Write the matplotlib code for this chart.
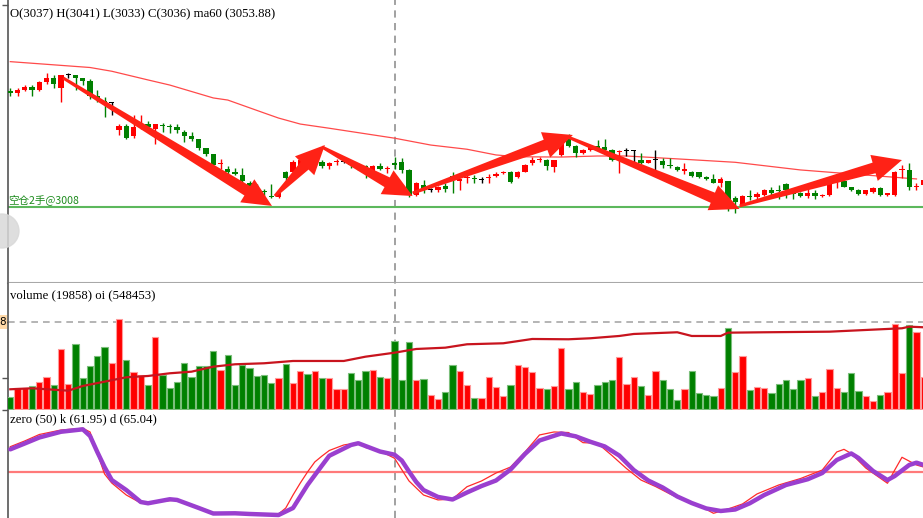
import numpy as np
import matplotlib
matplotlib.use("Agg")
import matplotlib.pyplot as plt
from matplotlib.patches import Polygon, Ellipse

# candles
opens = [3085, 3084, 3086, 3088, 3086, 3091, 3094, 3087, 3096, 3096,
         3094, 3092, 3082, 3078.5, 3077, 3059, 3062, 3055, 3061, 3063,
         3060, 3062.5, 3062, 3061, 3058, 3055, 3053, 3047, 3043, 3036.5,
         3033, 3031.5, 3029, 3024, 3022, 3018.5, 3015, 3014.5, 3031, 3031.5,
         3033, 3040.5, 3037, 3038, 3035, 3038, 3038, 3038, 3036, 3035,
         3031.5, 3035, 3033, 3037, 3038, 3032.5, 3016, 3022.5, 3019.5, 3019,
         3022, 3028.5, 3025.5, 3027, 3027, 3026, 3027.5, 3028.5, 3030.5, 3031.5,
         3028, 3031.5, 3037.5, 3039.5, 3039.5, 3034.5, 3042.5, 3055, 3048.5, 3044,
         3046, 3048.5, 3048, 3046, 3044.5, 3045, 3045, 3039.5, 3037.5, 3039,
         3038.5, 3036, 3034.5, 3032, 3031.5, 3031, 3028, 3026.5, 3024, 3025,
         3014, 3009.5, 3015, 3014.5, 3016, 3019.5, 3019, 3023.5, 3018, 3017,
         3015.5, 3017, 3015, 3016, 3024.5, 3025, 3021, 3019.5, 3016.5, 3018,
         3020.5, 3016, 3016, 3032.5, 3032.5, 3021.5, 3022.5]
highs = [3087, 3087, 3089, 3089, 3092, 3097, 3096, 3096, 3097, 3096,
         3094, 3093, 3086, 3081, 3078, 3063, 3063, 3069, 3069, 3065,
         3063, 3064, 3063, 3063, 3059, 3058, 3053, 3047, 3043, 3040,
         3035, 3034, 3034, 3025, 3023, 3020, 3023, 3018, 3032, 3039,
         3040, 3041, 3041.5, 3039, 3038, 3040, 3041, 3039, 3037, 3036,
         3036, 3037.5, 3035, 3041, 3040.5, 3033, 3024.5, 3026, 3020.5, 3022,
         3024, 3031, 3027, 3030.5, 3029, 3028, 3030, 3031, 3032, 3032,
         3032, 3036.5, 3041, 3041, 3040, 3039.5, 3055.5, 3056.5, 3049, 3046.5,
         3049, 3052.5, 3053, 3046.5, 3046, 3047, 3046, 3044, 3039.5, 3046,
         3040.5, 3040.5, 3035, 3037, 3032, 3031.5, 3028.5, 3030, 3028, 3025.5,
         3015.5, 3016, 3019, 3018, 3020, 3021.5, 3022.5, 3024, 3020, 3018,
         3020, 3019, 3016.5, 3025, 3026, 3025.5, 3021.5, 3020, 3019.5, 3021,
         3021, 3017.5, 3032, 3036, 3037, 3024, 3027]
lows = [3082, 3082, 3085, 3082, 3085, 3090, 3087, 3078, 3094, 3086,
        3089, 3080, 3078, 3068, 3069, 3056, 3053, 3054, 3060, 3059,
        3050, 3058, 3057, 3057, 3051, 3052, 3046, 3042, 3035, 3033,
        3030, 3029, 3024, 3020.5, 3019, 3015, 3014, 3014, 3026, 3030,
        3032, 3037, 3035, 3034, 3033, 3036, 3037.5, 3034, 3032.5, 3027,
        3031, 3032.5, 3030.5, 3033, 3030.5, 3014.5, 3015, 3017.5, 3018, 3018,
        3018, 3017, 3019, 3024, 3024, 3024, 3024, 3028, 3030, 3024,
        3027, 3031, 3036, 3038, 3032.5, 3031.5, 3042, 3048, 3041.5, 3043.5,
        3045.5, 3046, 3044.5, 3038.5, 3030.5, 3042, 3037, 3036.5, 3037, 3032,
        3034, 3034, 3032, 3030, 3028, 3027.5, 3026, 3024, 3021, 3005,
        3004, 3009, 3012.5, 3013, 3015.5, 3016, 3013, 3014, 3013, 3014.5,
        3014, 3013, 3014.5, 3015.5, 3020.5, 3021, 3018.5, 3016, 3016, 3017.5,
        3015.5, 3015.5, 3015.5, 3027, 3019.5, 3019.5, 3021]
closes = [3084, 3086, 3088, 3086, 3091, 3094, 3090, 3096, 3096, 3094,
          3092, 3082, 3079, 3078, 3077, 3062, 3054, 3061, 3063, 3061,
          3063, 3062, 3061.5, 3059, 3055, 3053, 3047, 3043, 3036, 3037,
          3031.5, 3030, 3025, 3021.5, 3020, 3018, 3014.5, 3017, 3027, 3038,
          3039, 3037.5, 3039, 3035, 3037.5, 3038.5, 3038, 3036, 3034, 3032.5,
          3035, 3033.5, 3034, 3036, 3032.5, 3016, 3024, 3019.5, 3019.5, 3021,
          3020, 3026, 3026.5, 3027.5, 3026.5, 3026, 3028, 3030, 3031.5, 3024.5,
          3031.5, 3036, 3039, 3040, 3035, 3039, 3055, 3048.5, 3044, 3046,
          3048.5, 3046.5, 3046, 3039, 3045.5, 3045, 3045, 3037, 3039, 3039,
          3036, 3035, 3032.5, 3033, 3028.5, 3028, 3026.5, 3024, 3026.5, 3010.5,
          3011.5, 3015.5, 3014.5, 3016.5, 3019.5, 3017.5, 3018.5, 3019.5, 3016.5, 3015.5,
          3017, 3015, 3016, 3025, 3025, 3021.5, 3019, 3016.5, 3019, 3020.5,
          3016, 3017, 3031.5, 3033, 3021.5, 3022, 3026]

# ma60 read at some bars
ma_idx = [0, 11, 14, 19, 22, 28, 30, 35, 37, 40, 44, 53, 58, 63, 67, 70, 76, 81, 85, 93, 100, 109, 118, 125]
ma_val = [3104.9, 3101, 3098.5, 3092.7, 3089.3, 3080.7, 3079.3, 3070.7, 3067.3, 3063.3, 3060.5, 3053.88,
          3049.3, 3046.5, 3042.7, 3041.5, 3041.3, 3042, 3042, 3039.8, 3037.8, 3032.7, 3029.3, 3026.7]

# volume + up/down flag (1 = red)
vols = [3480, 6090, 6090, 6670, 7830, 9280, 6960, 17400, 7250, 18850,
        8990, 12470, 15370, 17980, 13340, 26100, 14210, 10730, 9860, 6960,
        20880, 9860, 6090, 7830, 13340, 9280, 12470, 12470, 16820, 11310,
        15660, 6960, 12760, 11890, 9570, 9860, 7540, 8990, 13050, 7540,
        11020, 10150, 11020, 8990, 8990, 5800, 5800, 10440, 8410, 11020,
        11310, 9280, 8990, 19858, 8410, 19430, 8410, 8700, 4060, 2900,
        4930, 12760, 11020, 6960, 3190, 3190, 9280, 6380, 3770, 6960,
        12760, 12180, 10730, 6090, 5800, 6670, 17690, 5800, 7830, 4930,
        4350, 6960, 7830, 8410, 15080, 7250, 9280, 6670, 4060, 11020,
        8410, 5800, 2610, 5800, 11020, 4640, 4060, 3770, 6090, 23490,
        10730, 15370, 5510, 6380, 6090, 4640, 7250, 8410, 5800, 8410,
        8990, 3770, 4930, 11600, 6090, 4930, 10440, 5220, 3770, 2320,
        4060, 4930, 24650, 10440, 24360, 22330, 9280]
vol_up = [0, 1, 1, 0, 1, 1, 0, 1, 1, 0, 0, 0, 0, 0, 1, 1, 0, 1, 1, 0,
          1, 0, 0, 0, 0, 0, 0, 0, 0, 1, 0, 0, 0, 0, 0, 0, 0, 1, 0, 1,
          1, 0, 1, 0, 1, 1, 1, 0, 0, 0, 1, 0, 1, 0, 0, 0, 1, 0, 1, 1,
          0, 0, 1, 1, 0, 1, 1, 1, 1, 0, 1, 1, 1, 1, 0, 1, 1, 0, 0, 1,
          1, 0, 0, 0, 1, 1, 1, 0, 1, 1, 0, 0, 0, 1, 0, 0, 0, 0, 1, 0,
          1, 1, 0, 1, 1, 0, 0, 0, 0, 0, 1, 0, 1, 1, 1, 0, 0, 0, 1, 1,
          0, 1, 1, 1, 0, 1, 1]

oi_idx = [0, 3, 8, 10, 13, 16, 19, 22, 25, 28, 31, 35, 39, 46, 49, 53, 56, 60, 63, 68,
          72, 77, 80, 84, 86, 92, 94, 98, 99, 104, 113, 118, 123, 124, 126]
oi_val = [475300, 477300, 472500, 481900, 490500, 499300, 501900, 507300, 510500, 520500,
          525300, 527300, 531900, 531900, 540500, 548453, 555900, 558500, 565300, 567300,
          575900, 575300, 577300, 581900, 585900, 589300, 581900, 581900, 588500, 589300,
          590500, 593900, 597300, 600500, 599300]

k_idx = [0, 2, 4, 7, 10, 11, 12, 13, 14, 16, 18, 20, 23, 25, 28, 31, 37, 38, 39, 40,
         41, 42, 43, 44, 46, 48, 49, 51, 53, 55, 57, 59, 61, 63, 65, 67, 69, 71, 73, 75,
         77, 79, 81, 83, 85, 87, 89, 91, 93, 95, 97, 99, 101, 103, 106, 109, 112, 114, 115, 116,
         118, 121, 122, 123, 125, 126]
k_val = [72, 77, 82.6, 86.5, 88, 84.8, 66.5, 48.3, 40.4, 30, 23, 23.9, 25.7, 21.3, 14.8, 14.1, 13.5, 18.7, 30, 40.4,
         50, 58.7, 63.9, 68.7, 73.5, 75.5, 71.3, 68.3, 61.95, 42.2, 30, 25.7, 26.5, 37.2, 42.2, 49.1, 54.3, 67.4, 82.2, 84.8,
         84.3, 75.5, 75, 64.3, 53, 43, 37.4, 30.9, 25.2, 20.9, 14.1, 17.8, 22.2, 30.9, 38.7, 44.3, 51.7, 67.4, 69.7, 66.1,
         53.5, 40.2, 51.7, 62.8, 56.1, 54.3]
d_idx = [0, 2, 4, 7, 10, 11, 12, 13, 14, 16, 18, 19, 22, 23, 26, 28, 31, 33, 37, 39,
         41, 43, 44, 47, 48, 49, 51, 53, 54, 55, 56, 57, 59, 61, 63, 65, 67, 69, 71, 73,
         76, 78, 80, 82, 84, 86, 88, 90, 92, 94, 96, 98, 100, 102, 104, 107, 110, 112, 114, 116,
         117, 119, 121, 122, 124, 125, 126]
d_val = [69.7, 74.8, 80, 85, 87.1, 81.3, 67.4, 54.3, 43, 34.3, 23.9, 22.8, 26.3, 25.7, 18.7, 13.9, 14.1, 13.5, 12.6, 18.7,
         38.7, 55.7, 64.1, 73.5, 75, 72.6, 67.8, 65.04, 60, 50.4, 41.3, 34.3, 28.3, 26.1, 32.2, 37.8, 42.6, 52.1, 65.7, 77.4,
         83.5, 81, 76.3, 72.2, 64.3, 51.7, 42.6, 36.5, 28.7, 23, 18.3, 16.1, 17.4, 22.8, 30, 38.7, 43.7, 49.1, 60.4, 66.1,
         62.2, 50.9, 43, 46.5, 56.1, 58.1, 56.1]

# hand drawn arrows: (start bar, start price, end bar, end price)
arrows = [(7.3, 3094, 36.1, 3008.7),
          (36.5, 3015.3, 43.4, 3049.3),
          (43.0, 3048, 55.5, 3015.3),
          (55.5, 3017.3, 77.6, 3056),
          (76.9, 3054.7, 100.6, 3006.7),
          (100.6, 3008.7, 123.0, 3039.3)]

cursor = 53
RED = "#ff0000"
GREEN = "#008000"

W, H = 923, 518
fig = plt.figure(figsize=(W / 100, H / 100), dpi=100)


def box(top, bottom):
    return [8 / W, (H - bottom) / H, (W - 8) / W, (bottom - top) / H]


ax = fig.add_axes(box(0, 283))
axv = fig.add_axes(box(283, 410))
axk = fig.add_axes(box(410, 518))

xlim = (-0.317, 125.9)
for a in (ax, axv, axk):
    a.set_xlim(*xlim)
    a.set_xticks([])
    for s in ("top", "right"):
        a.spines[s].set_visible(False)
    a.spines["left"].set_color("#555555")
    a.spines["left"].set_linewidth(1.2)
    a.spines["bottom"].set_color("#a8a8a8")
    a.spines["bottom"].set_linewidth(1.5)
    a.tick_params(axis="y", length=4, width=1, color="#555555", labelleft=False)
    a.axvline(cursor, color="#9a9a9a", lw=1.3, ls=(0, (4, 3)), zorder=1)
axk.spines["bottom"].set_visible(False)

# --- price panel
ax.set_ylim(2957.33, 3146)
ax.set_yticks([3142.7])
idx = np.arange(len(opens))
o = np.array(opens); c = np.array(closes)
col = np.where(c > o, RED, np.where(c < o, GREEN, "#000000"))
ax.vlines(idx, lows, highs, colors=col, lw=1, zorder=3)
body = np.maximum(np.abs(c - o), 0.7)
ax.bar(idx, body, bottom=np.minimum(o, c), width=0.74, color=col, lw=0, zorder=3)
ax.plot(ma_idx, ma_val, color="#ff4a4a", lw=0.9, zorder=2)
ax.axhline(3008, color="#5cb85c", lw=1.5, zorder=2)
ax.text(-0.3, 3008.6, "空仓2手@3008", color="#1e8c1e", fontsize=7.6, va="bottom",
        family=["Noto Sans CJK SC", "DejaVu Sans"], zorder=4)

fig.canvas.draw()
for x0, y0, x1, y1 in arrows:
    p0 = ax.transData.transform((x0, y0))
    p1 = ax.transData.transform((x1, y1))
    d = p1 - p0
    u = d / np.hypot(*d)
    n = np.array([-u[1], u[0]])
    b = p1 - u * 29
    pts = [p0 + n * 1.5, b + n * 5.5, b + n * 13.5, p1, b - n * 13.5, b - n * 5.5, p0 - n * 1.5]
    pts = ax.transData.inverted().transform(pts)
    ax.add_patch(Polygon(pts, closed=True, color="#ff2216", lw=0, zorder=6))

# --- volume panel
axv.set_ylim(-290, 36540)
axv.set_yticks([8990, 25230])
vc = [RED if u else GREEN for u in vol_up]
ec = ["#ff9a9a" if u else "#7cbf7c" for u in vol_up]
axv.bar(idx, vols, width=0.86, color=vc, edgecolor=ec, lw=0.8, zorder=3)
axv.axhline(25230, color="#a8a8a8", lw=1.2, ls=(0, (4, 3)), zorder=2)
axo = axv.twinx()
axo.set_ylim(433853, 687853)
axo.set_xlim(*xlim)
axo.axis("off")
axo.plot(oi_idx, oi_val, color="#c8141e", lw=1.6, zorder=4)

# --- kd panel
axk.set_ylim(10, 103.9)
axk.set_yticks([103.9])
axk.axhline(50, color="#ff7a7a", lw=1.6, zorder=2)
axk.plot(k_idx, k_val, color="#ff2a2a", lw=0.9, zorder=3)
axk.plot(d_idx, d_val, color="#9a3fcf", lw=3.2, solid_capstyle="round", zorder=4)

# header texts
serif = "Liberation Serif"
fig.text(10.5 / W, 1 - 14 / H, "O(3037) H(3041) L(3033) C(3036) ma60 (3053.88)",
         family=serif, fontsize=9.2, va="center")
fig.text(10.5 / W, 1 - 295 / H, "volume (19858) oi (548453)", family=serif, fontsize=9.2, va="center")
fig.text(10.5 / W, 1 - 419.5 / H, "zero (50) k (61.95) d (65.04)", family=serif, fontsize=9.2, va="center")

# cut-off price label + side button of the app
fig.text(5.5 / W, 1 - 322 / H, "8", fontsize=7.5, ha="right", va="center",
         bbox=dict(boxstyle="square,pad=0.15", fc="#ffd9a8", ec="none"))
fig.add_artist(Ellipse((2 / W, 1 - 231 / H), 34 / W, 34 / H, transform=fig.transFigure,
                       color="#d9d9d9", alpha=0.85, zorder=10))

fig.savefig("out.png", dpi=100)
